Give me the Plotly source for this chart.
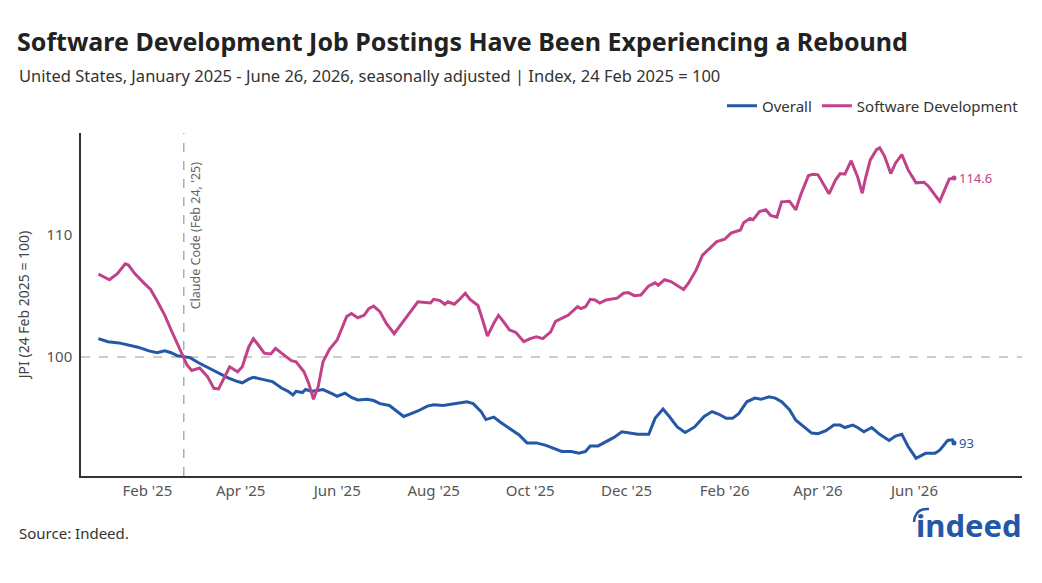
import plotly.graph_objects as go

# ---------------- data ----------------
sw_dates = ["2025-01-01","2025-01-08","2025-01-13","2025-01-18","2025-01-20","2025-01-24","2025-01-30",
"2025-02-03","2025-02-07","2025-02-12","2025-02-16","2025-02-21","2025-02-24","2025-02-26","2025-03-01",
"2025-03-06","2025-03-11","2025-03-15","2025-03-18","2025-03-22","2025-03-25","2025-03-30","2025-04-02",
"2025-04-06","2025-04-09","2025-04-12","2025-04-16","2025-04-20","2025-04-23","2025-04-27","2025-04-30",
"2025-05-03","2025-05-06","2025-05-11","2025-05-14","2025-05-17","2025-05-20","2025-05-23","2025-05-27",
"2025-06-01","2025-06-07","2025-06-10","2025-06-14","2025-06-18","2025-06-21","2025-06-24","2025-06-28",
"2025-07-02","2025-07-07","2025-07-11","2025-07-17","2025-07-22","2025-07-30","2025-08-01","2025-08-05",
"2025-08-08","2025-08-10","2025-08-14","2025-08-17","2025-08-21","2025-08-24","2025-08-29","2025-09-01",
"2025-09-04","2025-09-08","2025-09-11","2025-09-14","2025-09-18","2025-09-22","2025-09-27","2025-10-01",
"2025-10-05","2025-10-09","2025-10-14","2025-10-17","2025-10-21","2025-10-25","2025-10-31","2025-11-02",
"2025-11-05","2025-11-08","2025-11-11","2025-11-14","2025-11-18","2025-11-23","2025-11-25","2025-11-29",
"2025-12-02","2025-12-06","2025-12-10","2025-12-15","2025-12-19","2025-12-21","2025-12-25","2025-12-29",
"2026-01-02","2026-01-06","2026-01-09","2026-01-14","2026-01-18","2026-01-22","2026-01-27","2026-02-01",
"2026-02-05","2026-02-11","2026-02-13","2026-02-17","2026-02-19","2026-02-23","2026-02-27","2026-03-02",
"2026-03-06","2026-03-09","2026-03-14","2026-03-18","2026-03-21","2026-03-26","2026-03-29","2026-04-01",
"2026-04-05","2026-04-08","2026-04-12","2026-04-15","2026-04-18","2026-04-22","2026-04-26","2026-04-29",
"2026-05-01","2026-05-04","2026-05-08","2026-05-10","2026-05-13","2026-05-17","2026-05-20","2026-05-24",
"2026-05-28","2026-06-02","2026-06-07","2026-06-10","2026-06-14","2026-06-17","2026-06-20","2026-06-23",
"2026-06-26"]
sw_values = [106.75,106.3,106.8,107.6,107.5,106.8,106.0,
105.5,104.6,103.4,102.2,100.8,100.0,99.35,98.9,
99.1,98.4,97.45,97.4,98.5,99.2,98.8,99.2,
100.8,101.5,101.0,100.3,100.25,100.7,100.3,100.0,
99.7,99.6,98.8,97.85,96.55,97.6,99.6,100.6,
101.4,103.3,103.55,103.2,103.4,103.95,104.15,103.7,
102.75,101.9,102.6,103.7,104.5,104.4,104.7,104.6,
104.3,104.5,104.3,104.65,105.2,104.7,104.2,103.0,
101.7,102.75,103.4,102.9,102.2,102.0,101.25,101.5,
101.65,101.5,102.05,102.9,103.15,103.4,104.1,103.95,
104.1,104.7,104.65,104.4,104.65,104.8,104.8,105.2,
105.25,105.0,105.05,105.8,106.05,105.85,106.3,106.15,
105.85,105.5,106.0,107.1,108.3,108.8,109.4,109.6,
110.1,110.35,110.95,111.3,111.2,111.85,112.0,111.55,
111.4,112.65,112.7,112.0,113.2,114.8,114.9,114.85,
113.9,113.3,114.4,114.95,114.9,116.0,114.7,113.35,
114.55,116.05,116.9,117.05,116.4,114.95,115.8,116.5,
115.25,114.2,114.25,113.9,113.2,112.7,113.6,114.5,
114.6]

ov_dates = ["2025-01-01","2025-01-07","2025-01-14","2025-01-20","2025-01-26","2025-02-02","2025-02-07",
"2025-02-12","2025-02-16","2025-02-20","2025-02-24","2025-02-28","2025-03-05","2025-03-12","2025-03-18",
"2025-03-24","2025-03-30","2025-04-02","2025-04-06","2025-04-09","2025-04-14","2025-04-21","2025-04-27",
"2025-05-01","2025-05-04","2025-05-06","2025-05-10","2025-05-12","2025-05-16","2025-05-20","2025-05-23",
"2025-05-29","2025-06-01","2025-06-06","2025-06-10","2025-06-14","2025-06-20","2025-06-24","2025-06-28",
"2025-07-04","2025-07-09","2025-07-13","2025-07-17","2025-07-22","2025-07-28","2025-08-01","2025-08-07",
"2025-08-14","2025-08-19","2025-08-22","2025-08-26","2025-08-31","2025-09-03","2025-09-08","2025-09-12",
"2025-09-18","2025-09-24","2025-09-29","2025-10-05","2025-10-11","2025-10-16","2025-10-21","2025-10-27",
"2025-11-01","2025-11-05","2025-11-08","2025-11-13","2025-11-18","2025-11-23","2025-11-28","2025-12-02",
"2025-12-08","2025-12-15","2025-12-19","2025-12-24","2025-12-28","2026-01-02","2026-01-07","2026-01-13",
"2026-01-19","2026-01-24","2026-01-28","2026-02-02","2026-02-06","2026-02-10","2026-02-15","2026-02-20",
"2026-02-24","2026-03-01","2026-03-05","2026-03-09","2026-03-14","2026-03-18","2026-03-23","2026-03-28",
"2026-04-01","2026-04-06","2026-04-11","2026-04-15","2026-04-18","2026-04-23","2026-04-26","2026-04-30",
"2026-05-05","2026-05-10","2026-05-16","2026-05-20","2026-05-24","2026-05-28","2026-06-02","2026-06-08",
"2026-06-14","2026-06-17","2026-06-22","2026-06-25","2026-06-26"]
ov_values = [101.5,101.25,101.15,101.0,100.8,100.5,100.35,
100.5,100.35,100.1,100.0,99.95,99.55,99.1,98.7,
98.3,98.0,97.9,98.2,98.35,98.2,98.0,97.45,
97.2,96.9,97.2,97.1,97.35,97.2,97.3,97.35,
97.0,96.8,97.05,96.7,96.5,96.55,96.45,96.2,
96.05,95.55,95.15,95.35,95.6,96.0,96.1,96.05,
96.2,96.3,96.35,96.2,95.55,94.9,95.1,94.7,
94.2,93.65,93.0,93.0,92.8,92.55,92.3,92.3,
92.15,92.3,92.75,92.75,93.1,93.45,93.9,93.8,
93.7,93.7,95.0,95.75,95.15,94.3,93.85,94.3,
95.15,95.55,95.35,95.0,95.0,95.4,96.35,96.65,
96.55,96.75,96.65,96.35,95.7,94.85,94.3,93.8,
93.75,94.0,94.45,94.45,94.25,94.45,94.25,93.9,
94.25,93.7,93.2,93.55,93.7,92.7,91.75,92.15,
92.15,92.4,93.2,93.25,93.0]

series_names = ["Overall", "Software Development"]
end_labels = ["93", "114.6"]
x_tick_dates = ["2025-02-01","2025-04-01","2025-06-01","2025-08-01","2025-10-01",
                "2025-12-01","2026-02-01","2026-04-01","2026-06-01"]
x_tick_text = ["Feb '25","Apr '25","Jun '25","Aug '25","Oct '25",
               "Dec '25","Feb '26","Apr '26","Jun '26"]
y_tick_vals = [100, 110]
event_date = "2025-02-24"
event_label = "Claude Code (Feb 24, '25)"
baseline = 100

BLUE = "#2557a7"
PINK = "#c2428a"
FONT = "Noto Sans"

# plot area in pixels (for decoration placement only)
L, R, T, B = 81, 20, 133, 107
W, H = 1042, 583
PW, PH = W - L - R, H - T - B
def px(xp):
    return (xp - L) / PW
def py(yp):
    return (H - B - yp) / PH

fig = go.Figure()
fig.add_trace(go.Scatter(x=ov_dates, y=ov_values, name=series_names[0], mode="lines",
                         line=dict(color=BLUE, width=3), hoverinfo="x+y"))
fig.add_trace(go.Scatter(x=sw_dates, y=sw_values, name=series_names[1], mode="lines",
                         line=dict(color=PINK, width=3), hoverinfo="x+y"))
fig.add_trace(go.Scatter(x=[ov_dates[-1]], y=[ov_values[-1]], mode="markers", showlegend=False,
                         marker=dict(color=BLUE, size=5), hoverinfo="skip"))
fig.add_trace(go.Scatter(x=[sw_dates[-1]], y=[sw_values[-1]], mode="markers", showlegend=False,
                         marker=dict(color=PINK, size=5), hoverinfo="skip"))

fig.add_shape(type="line", xref="paper", x0=0, x1=1, yref="y", y0=baseline, y1=baseline,
              line=dict(color="#999999", width=1.2, dash="dash"), layer="below")
fig.add_shape(type="line", xref="x", x0=event_date, x1=event_date, yref="paper", y0=0, y1=1,
              line=dict(color="#999999", width=1.2, dash="dash"), layer="below")
# logo swoosh over the "i"
fig.add_shape(type="path", xref="paper", yref="paper",
              path=f"M {px(914)} {py(522)} Q {px(915)} {py(508)} {px(929)} {py(509)}",
              line=dict(color=BLUE, width=2.5))

annotations = [
    dict(x=event_date, xref="x", y=py(159), yref="paper", text=event_label, textangle=-90,
         showarrow=False, xanchor="left", yanchor="top", xshift=1,
         font=dict(family=FONT, size=12.5, color="#666666")),
    dict(x=ov_dates[-1], y=ov_values[-1], xref="x", yref="y", text=end_labels[0], showarrow=False,
         xanchor="left", yanchor="middle", xshift=3, font=dict(family=FONT, size=13, color=BLUE)),
    dict(x=sw_dates[-1], y=sw_values[-1], xref="x", yref="y", text=end_labels[1], showarrow=False,
         xanchor="left", yanchor="middle", xshift=3, font=dict(family=FONT, size=13, color=PINK)),
    dict(x=px(17), y=py(75), xref="paper", yref="paper", xanchor="left", yanchor="middle", showarrow=False,
         text="United States, January 2025 - June 26, 2026, seasonally adjusted | Index, 24 Feb 2025 = 100",
         font=dict(family=FONT, size=16.5, color="#333333")),
    dict(x=px(17), y=py(533), xref="paper", yref="paper", xanchor="left", yanchor="middle", showarrow=False,
         text="Source: Indeed.", font=dict(family=FONT, size=15, color="#333333")),
    dict(x=px(1024), y=py(525), xref="paper", yref="paper", xanchor="right", yanchor="middle", showarrow=False,
         text="<b>indeed</b>", font=dict(family=FONT, size=31, color=BLUE)),
]

fig.update_layout(
    width=W, height=H,
    margin=dict(l=L, r=R, t=T, b=B),
    paper_bgcolor="white", plot_bgcolor="white",
    font=dict(family=FONT, color="#555555"),
    title=dict(text="<b>Software Development Job Postings Have Been Experiencing a Rebound</b>",
               x=17/W, xref="container", xanchor="left",
               y=1-42/H, yref="container", yanchor="middle",
               font=dict(family=FONT, size=25, color="#222222")),
    legend=dict(orientation="h", x=px(1024), xanchor="right", y=py(106), yanchor="middle",
                font=dict(family=FONT, size=15, color="#333333"), bgcolor="rgba(0,0,0,0)",
                traceorder="normal"),
    annotations=annotations,
    showlegend=True,
)
fig.update_xaxes(type="date", range=["2024-12-21", "2026-08-08"], showgrid=False, zeroline=False,
                 showline=True, linecolor="#333333", linewidth=1.5,
                 tickvals=x_tick_dates, ticktext=x_tick_text, ticks="",
                 tickfont=dict(family=FONT, size=15, color="#555555"))
fig.update_yaxes(range=[90.3, 118.26], showgrid=False, zeroline=False,
                 showline=True, linecolor="#333333", linewidth=1.5,
                 tickvals=y_tick_vals, ticks="", ticklabelstandoff=4,
                 tickfont=dict(family=FONT, size=15, color="#555555"),
                 title=dict(text="JPI (24 Feb 2025 = 100)", standoff=14,
                            font=dict(family=FONT, size=14, color="#444444")))

fig.write_html("out.html")
